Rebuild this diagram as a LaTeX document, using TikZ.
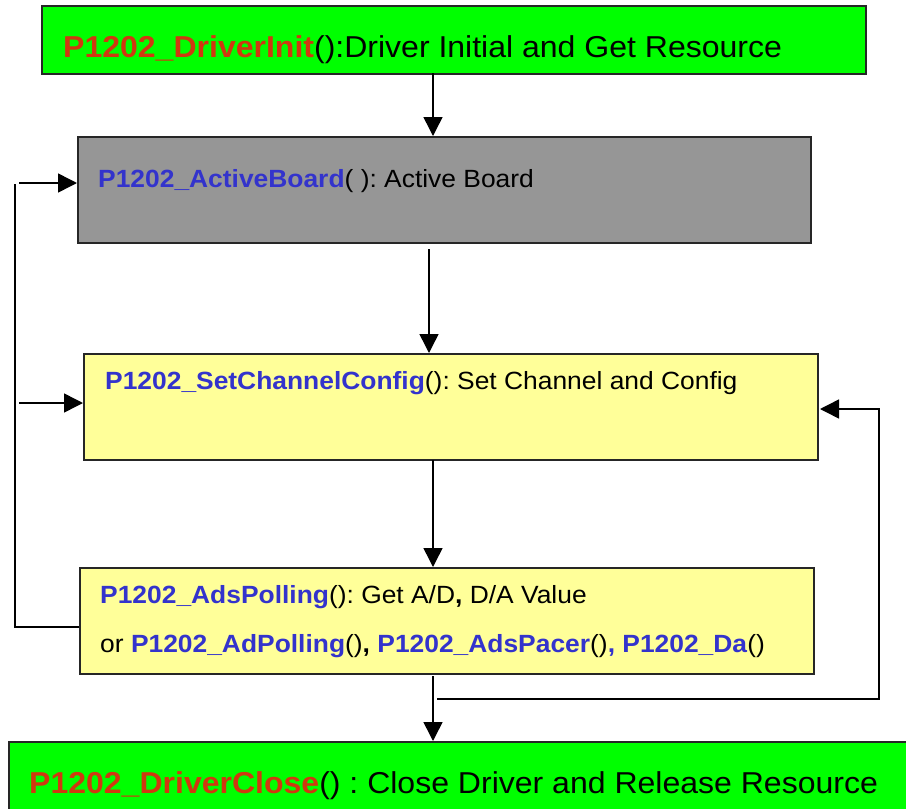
\documentclass[tikz,border=0pt]{standalone}
\usepackage{fontspec}
\setmainfont{Liberation Sans}[FakeStretch=1.06]
\usetikzlibrary{arrows.meta}
\definecolor{boxgreen}{RGB}{0,255,0}
\definecolor{boxgray}{RGB}{150,150,150}
\definecolor{boxyellow}{RGB}{255,255,153}
\definecolor{fnred}{RGB}{208,56,16}
\definecolor{fnblue}{RGB}{51,51,204}
\newcommand{\fnr}[1]{\textcolor{fnred}{\textbf{#1}}}
\newcommand{\fnb}[1]{\textcolor{fnblue}{\textbf{#1}}}
\frenchspacing
\tikzset{
  stagebox/.style={draw=black!85, line width=2pt, anchor=north west, inner sep=0pt},
  bigtext/.style={anchor=base west, inner sep=0pt, font=\fontsize{30.2}{36}\selectfont},
  smalltext/.style={anchor=base west, inner sep=0pt, font=\fontsize{24.9}{30}\selectfont},
  flow/.style={line width=1.5pt, -{Triangle[length=19pt,width=19pt]}},
  wire/.style={line width=1.5pt}
}
\begin{document}
\begin{tikzpicture}[x=1pt,y=-1pt]
\useasboundingbox (0,0) rectangle (906,809);

% stage boxes
\node[stagebox, fill=boxgreen,  minimum width=824pt, minimum height=68pt] (init) at (41,5) {};
\node[stagebox, fill=boxgray,   minimum width=733pt, minimum height=106pt] (active) at (77,136) {};
\node[stagebox, fill=boxyellow, minimum width=734pt, minimum height=106pt] (config) at (83,353) {};
\node[stagebox, fill=boxyellow, minimum width=734pt, minimum height=106pt] (poll) at (79,567) {};
\node[stagebox, fill=boxgreen,  minimum width=920pt, minimum height=80pt] (close) at (8,741) {};

% box captions
\node[bigtext] (tinit) at (63,57) {\fnr{P1202\_DriverInit}():Driver Initial and Get Resource};
\node[smalltext] (tactive) at (98,187) {\fnb{P1202\_ActiveBoard}( ): Active Board};
\node[smalltext] (tconfig) at (105,389) {\fnb{P1202\_SetChannelConfig}(): Set Channel and Config};
\node[smalltext] (tpoll1) at (100,603) {\fnb{P1202\_AdsPolling}(): Get A/D\textbf{,} D/A Value};
\node[smalltext] (tpoll2) at (100,652) {or \fnb{P1202\_AdPolling}()\textbf{,} \fnb{P1202\_AdsPacer}()\fnb{,} \fnb{P1202\_Da}()};
\node[bigtext] (tclose) at (29,793) {\fnr{P1202\_DriverClose}() : Close Driver and Release Resource};

% main flow
\coordinate (a1s) at (433,73);
\coordinate (a2s) at (429,249);
\coordinate (a3s) at (433,460);
\coordinate (a4s) at (433,676);
\draw[flow] (a1s) -- (a1s |- active.north);
\draw[flow] (a2s) -- (a2s |- config.north);
\draw[flow] (a3s) -- (a3s |- poll.north);
\draw[flow] (a4s) -- (a4s |- close.north);

% left return path
\coordinate (lb) at (15,627);
\coordinate (lt) at (15,184);
\draw[wire] (poll.west |- lb) -- (lb) -- (lt);
\coordinate (la1) at (19,183);
\coordinate (la2) at (19,403);
\draw[flow] (la1) -- (la1 -| active.west);
\draw[flow] (la2) -- (la2 -| config.west);

% right return path
\coordinate (rs) at (437,699);
\coordinate (rb) at (879,699);
\coordinate (rt) at (879,409);
\coordinate (rtip) at (820,409);
\draw[flow] (rs) -- (rb) -- (rt) -- (rtip);
\end{tikzpicture}
\end{document}
